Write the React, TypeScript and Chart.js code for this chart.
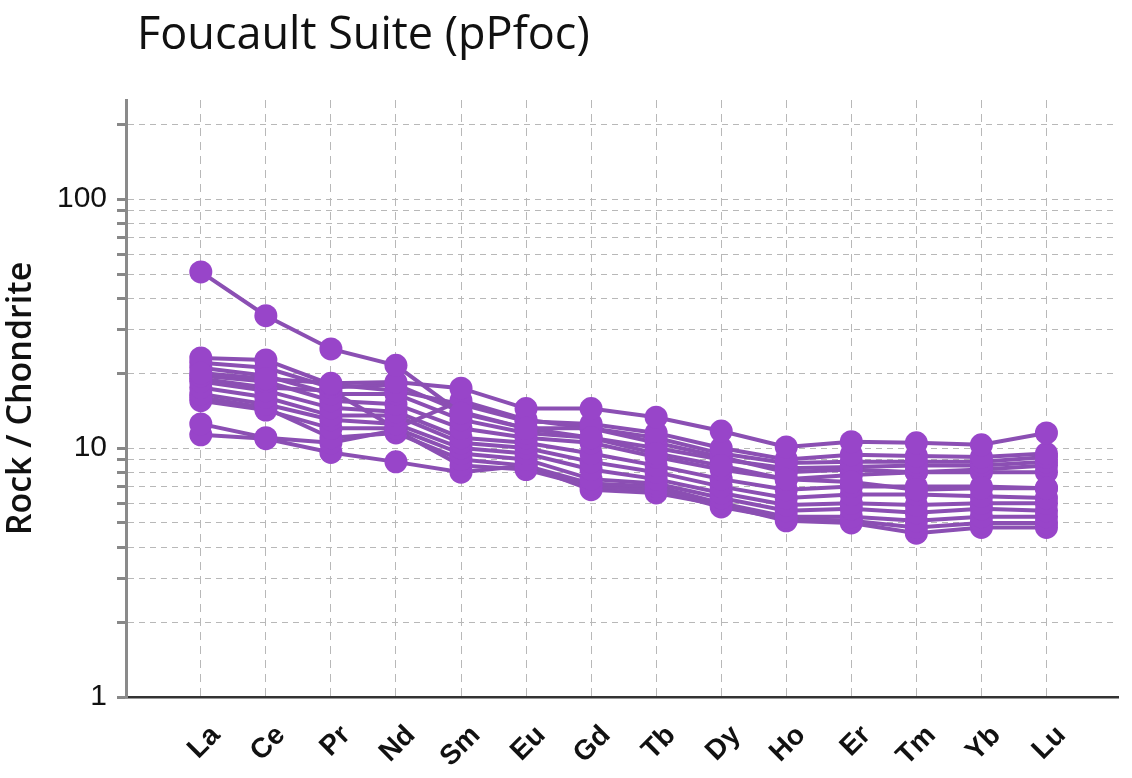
import React, { useEffect, useRef } from 'react';
import { Chart, registerables } from 'chart.js';

Chart.register(...registerables);

const chartTitle = 'Foucault Suite (pPfoc)';
const yAxisTitle = 'Rock / Chondrite';

const elements = ['La', 'Ce', 'Pr', 'Nd', 'Sm', 'Eu', 'Gd', 'Tb', 'Dy', 'Ho', 'Er', 'Tm', 'Yb', 'Lu'];

const yTickValues = [1, 2, 3, 4, 5, 6, 7, 8, 9, 10, 20, 30, 40, 50, 60, 70, 80, 90, 100, 200];
const yLabelValues = [1, 10, 100];

const sample01 = [51, 34, 25, 21.5, 13.8, 12, 11, 9.5, 8.5, 7.5, 7.3, 6.8, 6.9, 6.9];
const sample02 = [20, 19, 18.2, 18.4, 17.4, 14.4, 14.4, 13.3, 11.7, 10.1, 10.6, 10.5, 10.3, 11.5];
const sample03 = [23, 22.6, 18, 17, 15, 12.8, 12.5, 11.5, 10, 9, 9.4, 9.3, 9.2, 9.5];
const sample04 = [22, 21, 17.5, 18, 14, 12, 12, 11, 9.5, 8.7, 8.8, 8.8, 8.8, 9.2];
const sample05 = [21, 19.5, 16.5, 16.5, 13, 11.5, 11, 10, 9, 8.3, 8.4, 8.5, 8.5, 8.8];
const sample06 = [19.5, 18.5, 15.5, 15, 12, 11, 10.5, 9.2, 8.2, 7.5, 7.8, 8, 8.2, 8.5];
const sample07 = [18.5, 17, 14.5, 14, 11, 10.5, 9.5, 8.5, 7.5, 6.8, 7, 7, 7, 6.9];
const sample08 = [17.5, 16, 13.5, 13.5, 10.5, 10, 8.8, 8, 7, 6.3, 6.5, 6.5, 6.4, 6.3];
const sample09 = [16.5, 15, 13, 12.5, 10, 9.5, 8.2, 7.5, 6.6, 5.9, 6, 5.9, 6, 6];
const sample10 = [15.5, 14.2, 12, 12, 9.5, 9, 7.5, 7.2, 6.3, 5.6, 5.7, 5.5, 5.7, 5.6];
const sample11 = [16, 14.5, 11, 11.5, 9, 8.5, 7.2, 7, 6, 5.3, 5.3, 5.1, 5.3, 5.3];
const sample12 = [12.5, 11, 10.5, 11.8, 8.5, 8.2, 7, 6.8, 5.8, 5.2, 5.1, 4.8, 5, 5];
const sample13 = [11.3, 10.9, 9.6, 8.8, 8, 8.5, 6.8, 6.6, 5.9, 5.1, 5, 4.55, 4.8, 4.8];
const sample14 = [19, 17.5, 17, 12, 15.5, 13, 12, 10.5, 9.2, 8, 8.2, 8, 8, 8];

const samples = [
  sample01, sample02, sample03, sample04, sample05, sample06, sample07,
  sample08, sample09, sample10, sample11, sample12, sample13, sample14,
];

const lineColor = '#8b4fb3';
const pointColor = '#9845c9';
const gridColor = '#b8b8b8';

const titlePlugin = {
  id: 'mainTitle',
  afterDraw(chart: any) {
    const ctx = chart.ctx;
    ctx.save();
    ctx.font = '45px "Open Sans", sans-serif';
    ctx.fillStyle = '#111';
    ctx.textAlign = 'left';
    ctx.textBaseline = 'alphabetic';
    ctx.fillText(chartTitle, 137, 49);
    ctx.restore();
  },
};

export default function App() {
  const canvasRef = useRef<HTMLCanvasElement | null>(null);

  useEffect(() => {
    if (!canvasRef.current) return;
    const chart = new Chart(canvasRef.current, {
      type: 'line',
      data: {
        datasets: samples.map((s, k) => ({
          label: 'Sample ' + (k + 1),
          data: s.map((v, i) => ({ x: i, y: v })),
          borderColor: lineColor,
          backgroundColor: pointColor,
          borderWidth: 4,
          pointRadius: 11.5,
          pointBorderWidth: 0,
          pointBackgroundColor: pointColor,
          fill: false,
          tension: 0,
        })),
      },
      options: {
        animation: false,
        responsive: false,
        events: [],
        layout: { padding: { top: 100, right: 14, left: 0, bottom: 0 } },
        plugins: {
          legend: { display: false },
          tooltip: { enabled: false },
          title: { display: false },
        },
        scales: {
          x: {
            type: 'linear',
            min: -1.15,
            max: 14.1,
            afterBuildTicks: (scale: any) => {
              scale.ticks = elements.map((_, i) => ({ value: i }));
            },
            afterFit: (scale: any) => {
              scale.height = 81;
            },
            ticks: {
              autoSkip: false,
              maxRotation: 45,
              minRotation: 45,
              padding: 22,
              labelOffset: 15,
              color: '#111',
              font: { family: '"Liberation Sans", Arial, sans-serif', size: 28, weight: 'bold' },
              callback: (v: any) => elements[v] ?? '',
            },
            grid: {
              color: gridColor,
              lineWidth: 1,
              drawTicks: false,
            },
            border: { display: true, color: '#333', width: 2.5, dash: [8, 6] },
          },
          y: {
            type: 'logarithmic',
            min: 1,
            max: 250,
            afterBuildTicks: (scale: any) => {
              scale.ticks = yTickValues.map((v) => ({ value: v }));
            },
            afterFit: (scale: any) => {
              scale.width = 126;
            },
            ticks: {
              autoSkip: false,
              padding: 10,
              color: '#111',
              font: { family: '"Liberation Sans", Arial, sans-serif', size: 30 },
              callback: (v: any) => (yLabelValues.includes(Number(v)) ? String(v) : ''),
            },
            grid: {
              color: gridColor,
              lineWidth: 1,
              drawTicks: true,
              tickLength: 9,
              tickColor: '#888',
              tickWidth: 3,
              tickBorderDash: [],
            },
            border: { display: true, color: '#8a8a8a', width: 3, dash: [6, 5] },
            title: {
              display: true,
              text: yAxisTitle,
              color: '#111',
              font: { family: '"Open Sans", sans-serif', size: 34, weight: 600 },
              padding: { top: 1, bottom: 0 },
            },
          },
        },
      } as any,
      plugins: [titlePlugin],
    });
    return () => chart.destroy();
  }, []);

  return (
    <div style={{ position: 'fixed', left: 0, top: 0, width: 1132, height: 778, background: '#fff' }}>
      <canvas ref={canvasRef} width={1132} height={778} style={{ display: 'block' }} />
    </div>
  );
}
